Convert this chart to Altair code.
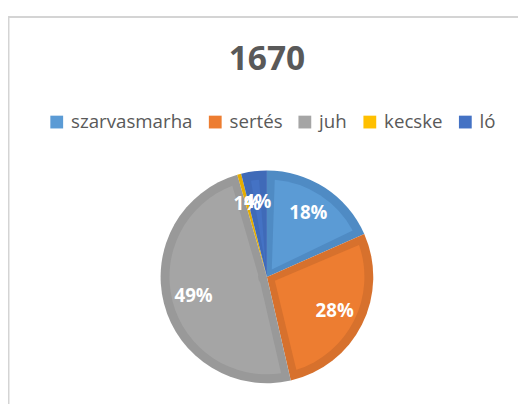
import altair as alt
import pandas as pd

categories = ["szarvasmarha", "sertés", "juh", "kecske", "ló"]
values = [18.4, 28.0, 49.1, 0.6, 3.9]
fill_colors = ["#5B9BD5", "#ED7D31", "#A5A5A5", "#FFC000", "#4472C4"]
edge_colors = ["#4F8BC4", "#D7712D", "#999999", "#E5AD00", "#3F6AB8"]

df = pd.DataFrame({"cat": categories, "val": values, "order": list(range(len(categories)))})
df["edge"] = edge_colors

color_scale = alt.Scale(domain=categories, range=fill_colors)

base = alt.Chart(df).encode(
    theta=alt.Theta("val:Q", stack=True),
    order=alt.Order("order:Q"),
)

outer = base.mark_arc(radius=108).encode(
    fill=alt.Fill("edge:N", scale=None),
)

inner = base.mark_arc(radius=99, innerRadius=9, padAngle=0.16).encode(
    color=alt.Color(
        "cat:N",
        scale=color_scale,
        sort=categories,
        legend=alt.Legend(
            title=None,
            orient="none",
            legendX=32,
            legendY=-59,
            direction="horizontal",
            symbolType="square",
            symbolSize=169,
            symbolStrokeWidth=0,
            labelFont="Open Sans",
            labelFontSize=19,
            labelColor="#595959",
            labelOffset=5,
            columnPadding=13,
        ),
    ),
)

labels = base.transform_calculate(
    lab="format(datum.val / 100, '.0%')"
).mark_text(
    radius=77, font="Open Sans", fontSize=19, fontWeight="bold", color="white"
).encode(text="lab:N")

frame_df = pd.DataFrame({"k": [0]})
frame_top = alt.Chart(frame_df).mark_rule(color="#D4D4D4", strokeWidth=2).encode(
    x=alt.value(-8), x2=alt.value(520), y=alt.value(-156)
)
frame_left = alt.Chart(frame_df).mark_rule(color="#D4D4D4", strokeWidth=2).encode(
    x=alt.value(-7.5), y=alt.value(-157), y2=alt.value(240)
)

chart = alt.layer(frame_top, frame_left, outer, inner, labels).properties(
    width=510,
    height=216,
    padding={"left": 8, "top": 162, "right": 0, "bottom": 18},
    autosize=alt.AutoSizeParams(type="none"),
    title=alt.Title(
        "1670",
        font="Open Sans",
        fontSize=34,
        fontWeight="bold",
        color="#595959",
        anchor="middle",
        baseline="alphabetic",
        offset=0,
        dy=90,
    ),
).configure_view(stroke=None)

chart.save("out.html", embed_options={"renderer": "svg", "actions": False})
